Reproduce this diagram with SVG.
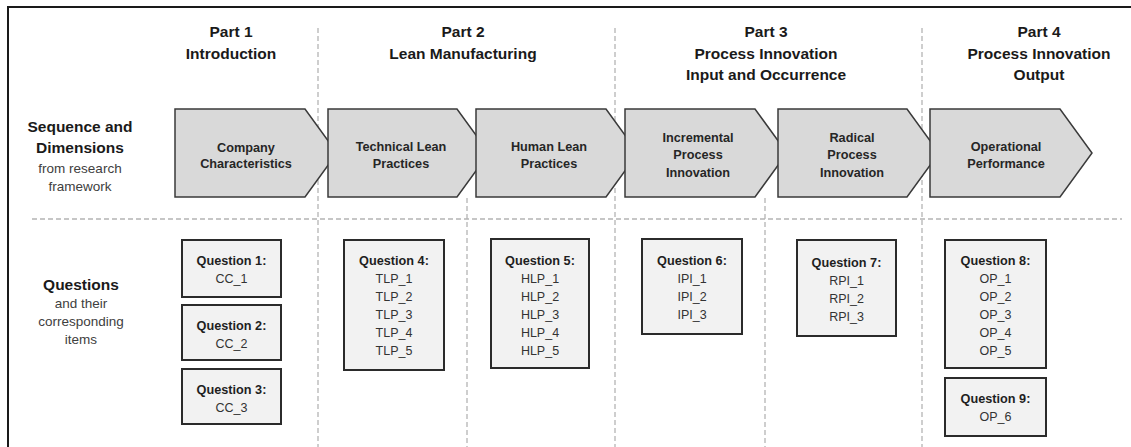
<svg xmlns="http://www.w3.org/2000/svg" width="1131" height="447" viewBox="0 0 1131 447">
  <style>
    text { font-family: "Liberation Sans", Arial, sans-serif; text-anchor: middle; }
    .part { font-size: 15.5px; font-weight: bold; fill: #1a1a1a; }
    .lbl-b { font-size: 15.5px; font-weight: bold; fill: #1a1a1a; }
    .lbl-s { font-size: 13.5px; fill: #404040; }
    .chev { fill: #d9d9d9; stroke: #3a3a3a; stroke-width: 1.5; stroke-linejoin: miter; }
    .chev-t { font-size: 12.7px; font-weight: bold; fill: #262626; }
    .qbox { fill: #f2f2f2; stroke: #2b2b2b; stroke-width: 2; }
    .q-h { font-size: 12.7px; font-weight: bold; fill: #1f1f1f; }
    .q-i { font-size: 12.5px; fill: #333333; }
    .div { stroke: #b4b4b4; stroke-width: 1.3; stroke-dasharray: 5 3; fill: none; }
  </style>

  <!-- frame -->
  <rect x="0" y="0" width="1131" height="447" fill="#ffffff"/>
  <path d="M8,452 V7 H1140" fill="none" stroke="#1a1a1a" stroke-width="2"/>

  <!-- section dividers -->
  <g id="dividers">
    <line class="div" x1="318" y1="28" x2="318" y2="447"/>
    <line class="div" x1="615" y1="28" x2="615" y2="447"/>
    <line class="div" x1="922" y1="28" x2="922" y2="447"/>
    <line class="div" x1="467" y1="198" x2="467" y2="447"/>
    <line class="div" x1="765" y1="198" x2="765" y2="447"/>
    <line class="div" x1="32" y1="219" x2="1122" y2="219"/>
  </g>

  <!-- part headings -->
  <g id="part1">
    <text class="part" x="231" y="37">Part 1</text>
    <text class="part" x="231" y="58.5">Introduction</text>
  </g>
  <g id="part2">
    <text class="part" x="463" y="37">Part 2</text>
    <text class="part" x="463" y="58.5">Lean Manufacturing</text>
  </g>
  <g id="part3">
    <text class="part" x="766" y="37">Part 3</text>
    <text class="part" x="766" y="58.5">Process Innovation</text>
    <text class="part" x="766" y="80">Input and Occurrence</text>
  </g>
  <g id="part4">
    <text class="part" x="1039" y="37">Part 4</text>
    <text class="part" x="1039" y="58.5">Process Innovation</text>
    <text class="part" x="1039" y="80">Output</text>
  </g>

  <!-- row labels -->
  <g id="row-sequence">
    <text class="lbl-b" x="80" y="131.5">Sequence and</text>
    <text class="lbl-b" x="80" y="153">Dimensions</text>
    <text class="lbl-s" x="80" y="173">from research</text>
    <text class="lbl-s" x="80" y="191">framework</text>
  </g>
  <g id="row-questions">
    <text class="lbl-b" x="81" y="290">Questions</text>
    <text class="lbl-s" x="81" y="308">and their</text>
    <text class="lbl-s" x="81" y="326">corresponding</text>
    <text class="lbl-s" x="81" y="344">items</text>
  </g>

  <!-- process chevrons -->
  <g id="dim-company">
    <path class="chev" d="M175,109 H305 L337,153 L305,197 H175 Z"/>
    <text class="chev-t" x="246" y="151.5">Company</text>
    <text class="chev-t" x="246" y="168">Characteristics</text>
  </g>
  <g id="dim-technical-lean">
    <path class="chev" d="M328,109 H457 L489,153 L457,197 H328 Z"/>
    <text class="chev-t" x="401" y="150.5">Technical Lean</text>
    <text class="chev-t" x="401" y="167.5">Practices</text>
  </g>
  <g id="dim-human-lean">
    <path class="chev" d="M476,109 H606 L638,153 L606,197 H476 Z"/>
    <text class="chev-t" x="549" y="150.5">Human Lean</text>
    <text class="chev-t" x="549" y="167.5">Practices</text>
  </g>
  <g id="dim-incremental">
    <path class="chev" d="M625,109 H755 L787,153 L755,197 H625 Z"/>
    <text class="chev-t" x="698" y="141.5">Incremental</text>
    <text class="chev-t" x="698" y="159.3">Process</text>
    <text class="chev-t" x="698" y="177">Innovation</text>
  </g>
  <g id="dim-radical">
    <path class="chev" d="M778,109 H907 L939,153 L907,197 H778 Z"/>
    <text class="chev-t" x="852" y="141.5">Radical</text>
    <text class="chev-t" x="852" y="159.3">Process</text>
    <text class="chev-t" x="852" y="177">Innovation</text>
  </g>
  <g id="dim-operational">
    <path class="chev" d="M930,109 H1060 L1092,153 L1060,197 H930 Z"/>
    <text class="chev-t" x="1006" y="150.5">Operational</text>
    <text class="chev-t" x="1006" y="167.5">Performance</text>
  </g>

  <!-- question boxes -->
  <g id="q1">
    <rect class="qbox" x="182" y="240" width="99" height="57"/>
    <text class="q-h" x="231.5" y="265">Question 1:</text>
    <text class="q-i" x="231.5" y="283">CC_1</text>
  </g>
  <g id="q2">
    <rect class="qbox" x="182" y="305" width="99" height="55"/>
    <text class="q-h" x="231.5" y="330">Question 2:</text>
    <text class="q-i" x="231.5" y="348">CC_2</text>
  </g>
  <g id="q3">
    <rect class="qbox" x="182" y="369" width="99" height="55"/>
    <text class="q-h" x="231.5" y="394">Question 3:</text>
    <text class="q-i" x="231.5" y="412">CC_3</text>
  </g>
  <g id="q4">
    <rect class="qbox" x="344" y="240" width="100" height="130"/>
    <text class="q-h" x="394" y="265">Question 4:</text>
    <text class="q-i" x="394" y="283">TLP_1</text>
    <text class="q-i" x="394" y="301">TLP_2</text>
    <text class="q-i" x="394" y="319">TLP_3</text>
    <text class="q-i" x="394" y="337">TLP_4</text>
    <text class="q-i" x="394" y="355">TLP_5</text>
  </g>
  <g id="q5">
    <rect class="qbox" x="491" y="239" width="98" height="129"/>
    <text class="q-h" x="540" y="265">Question 5:</text>
    <text class="q-i" x="540" y="283">HLP_1</text>
    <text class="q-i" x="540" y="301">HLP_2</text>
    <text class="q-i" x="540" y="319">HLP_3</text>
    <text class="q-i" x="540" y="337">HLP_4</text>
    <text class="q-i" x="540" y="355">HLP_5</text>
  </g>
  <g id="q6">
    <rect class="qbox" x="642" y="239" width="100" height="95"/>
    <text class="q-h" x="692" y="265">Question 6:</text>
    <text class="q-i" x="692" y="283">IPI_1</text>
    <text class="q-i" x="692" y="301">IPI_2</text>
    <text class="q-i" x="692" y="319">IPI_3</text>
  </g>
  <g id="q7">
    <rect class="qbox" x="797" y="240" width="99" height="96"/>
    <text class="q-h" x="846.5" y="266.5">Question 7:</text>
    <text class="q-i" x="846.5" y="284.5">RPI_1</text>
    <text class="q-i" x="846.5" y="302.5">RPI_2</text>
    <text class="q-i" x="846.5" y="320.5">RPI_3</text>
  </g>
  <g id="q8">
    <rect class="qbox" x="945" y="240" width="101" height="128"/>
    <text class="q-h" x="995.5" y="265">Question 8:</text>
    <text class="q-i" x="995.5" y="283">OP_1</text>
    <text class="q-i" x="995.5" y="301">OP_2</text>
    <text class="q-i" x="995.5" y="319">OP_3</text>
    <text class="q-i" x="995.5" y="337">OP_4</text>
    <text class="q-i" x="995.5" y="355">OP_5</text>
  </g>
  <g id="q9">
    <rect class="qbox" x="945" y="378" width="101" height="58"/>
    <text class="q-h" x="995.5" y="403">Question 9:</text>
    <text class="q-i" x="995.5" y="421">OP_6</text>
  </g>

  <!-- no connectors between nodes: sequence is shown by the chevrons -->
  <g id="connectors"/>
</svg>
